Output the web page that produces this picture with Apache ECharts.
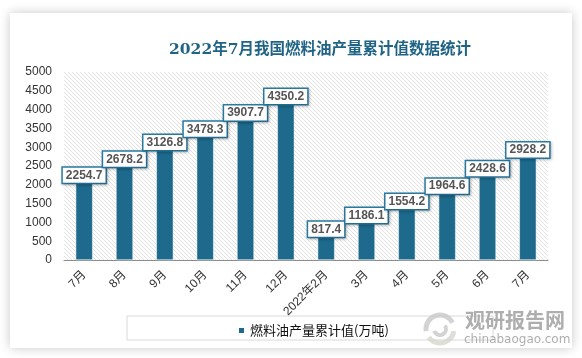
<!DOCTYPE html>
<html><head><meta charset="utf-8">
<script src="https://cdn.jsdelivr.net/npm/echarts@6/dist/echarts.min.js"></script>
<style>html,body{margin:0;padding:0;background:#fff}#c{width:582px;height:358px}</style>
</head><body><div id="c"></div>
<script>
var categories = ['7月','8月','9月','10月','11月','12月','2022年2月','3月','4月','5月','6月','7月'];
var values = [2254.7, 2678.2, 3126.8, 3478.3, 3907.7, 4350.2, 817.4, 1186.1, 1554.2, 1964.6, 2428.6, 2928.2];
var seriesName = '燃料油产量累计值(万吨)';
var titleText = '2022年7月我国燃料油产量累计值数据统计';

var pc = document.createElement('canvas');
pc.width = 4; pc.height = 4;
var g = pc.getContext('2d');
g.fillStyle = '#ffffff'; g.fillRect(0,0,4,4);
g.strokeStyle = '#dedede'; g.lineWidth = 0.9;
g.beginPath(); g.moveTo(-1,-1); g.lineTo(5,5); g.stroke();
g.beginPath(); g.moveTo(-1,3); g.lineTo(1,5); g.stroke();
g.beginPath(); g.moveTo(3,-1); g.lineTo(5,1); g.stroke();

var chart = echarts.init(document.getElementById('c'), null, {renderer:'canvas'});
chart.setOption({
  backgroundColor: '#fff',
  animation: false,
  title: {
    text: titleText, left: 315, top: 37, textAlign: 'center',
    textStyle: {fontFamily: '"DejaVu Serif", "Noto Sans CJK SC", serif', fontSize: 15.5, fontWeight: 'bold', color: '#1f6485'}
  },
  graphic: [
    {type:'rect', z:-100, shape:{x:10,y:13,width:562,height:335}, style:{fill:'#fff', shadowBlur:10, shadowColor:'rgba(0,0,0,0.22)'}},
    {type:'rect', z:1, shape:{x:127,y:316,width:366,height:24}, style:{fill:'rgba(0,0,0,0)', stroke:'#d9d9d9', lineWidth:1}},
    {type:'arc', z:50, shape:{cx:440,cy:329,r:14,startAngle:Math.PI*0.95,endAngle:Math.PI*1.85}, style:{stroke:'rgba(200,200,200,0.8)', lineWidth:5, fill:null}},
    {type:'arc', z:50, shape:{cx:440,cy:329,r:14,startAngle:Math.PI*0.05,endAngle:Math.PI*0.8}, style:{stroke:'rgba(215,215,205,0.8)', lineWidth:5, fill:null}},
    {type:'arc', z:50, shape:{cx:440,cy:329,r:6,startAngle:Math.PI*-0.2,endAngle:Math.PI*0.9}, style:{stroke:'rgba(200,200,200,0.8)', lineWidth:4, fill:null}},
    {type:'text', z:50, left:465, top:310, style:{text:'观研报告网', font:'bold 20px "Noto Sans CJK SC"', fill:'rgba(160,160,160,0.85)'}},
    {type:'text', z:50, left:464, top:334, style:{text:'chinabaogao.com', font:'12px "DejaVu Sans"', fill:'rgba(160,160,160,0.85)'}}
  ],
  legend: {
    left: 232, top: 319, itemWidth: 7, itemHeight: 7, icon: 'rect',
    textStyle: {fontFamily:'"Noto Sans CJK SC"', fontSize: 13, color: '#111'},
    data: [seriesName]
  },
  grid: {left: 64, right: 34, top: 72, bottom: 98, show: true, borderWidth: 0,
    backgroundColor: {image: pc, repeat: 'repeat'}},
  xAxis: {
    type: 'category', data: categories,
    axisLine: {lineStyle: {color: '#8c8c8c', width: 1}},
    axisTick: {show: false},
    axisLabel: {interval: 0, rotate: 45, margin: 13, color: '#333', fontSize: 12, fontFamily: '"Liberation Sans", "Noto Sans CJK SC", sans-serif'}
  },
  yAxis: {
    type: 'value', min: 0, max: 5000, interval: 500,
    axisLine: {show: false}, axisTick: {show: false}, splitLine: {show: false},
    axisLabel: {margin: 12, color: '#333', fontSize: 12, fontFamily: '"Liberation Sans", sans-serif',
      formatter: function (v) { return String(v); }}
  },
  series: [{
    name: seriesName, type: 'bar', data: values, barWidth: 17,
    itemStyle: {color: '#1d6a8c', borderColor: '#fff', borderWidth: 0.5},
    label: {
      show: true, position: ['50%', 0], align: 'center', verticalAlign: 'middle',
      backgroundColor: '#fff', borderColor: '#2a7ca3', borderWidth: 1.5,
      padding: [2, 3, 1, 3], fontWeight: 'bold', fontSize: 12, color: '#555',
      fontFamily: '"Liberation Sans", sans-serif',
      shadowBlur: 3, shadowColor: 'rgba(0,0,0,0.25)', shadowOffsetX: 1, shadowOffsetY: 1
    }
  }]
});
</script></body></html>
